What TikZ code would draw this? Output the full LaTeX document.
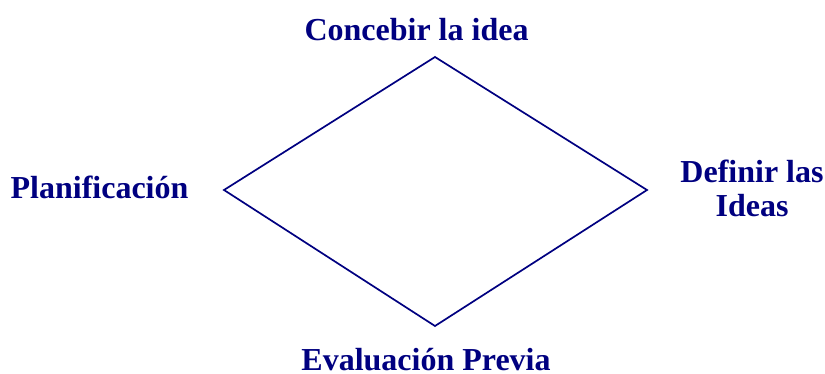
\documentclass[tikz,border=0pt]{standalone}
\usepackage{fontspec}
\setmainfont{Liberation Serif}
\definecolor{navy}{HTML}{000080}
\begin{document}
\begin{tikzpicture}[x=1pt,y=-1pt,
  lbl/.style={text=navy,font=\bfseries\fontsize{32}{34}\selectfont,inner sep=0pt,anchor=base},
  edge/.style={draw=navy,line width=1.7pt}]
\useasboundingbox (0,0) rectangle (825,374);
\coordinate (t) at (435,57);
\coordinate (r) at (647,190);
\coordinate (b) at (435,326);
\coordinate (l) at (224,190);
\draw[edge,line join=miter] (t) -- (r) -- (b) -- (l) -- cycle;
\node[lbl] (c) at (416.5,41) {Concebir la idea};
\node[lbl] (p) at (99.5,199) {Planificación};
\node[lbl] (d1) at (752,183) {Definir las};
\node[lbl] (d2) at (752,217) {Ideas};
\node[lbl] (e) at (426,370) {Evaluación Previa};
\end{tikzpicture}
\end{document}
